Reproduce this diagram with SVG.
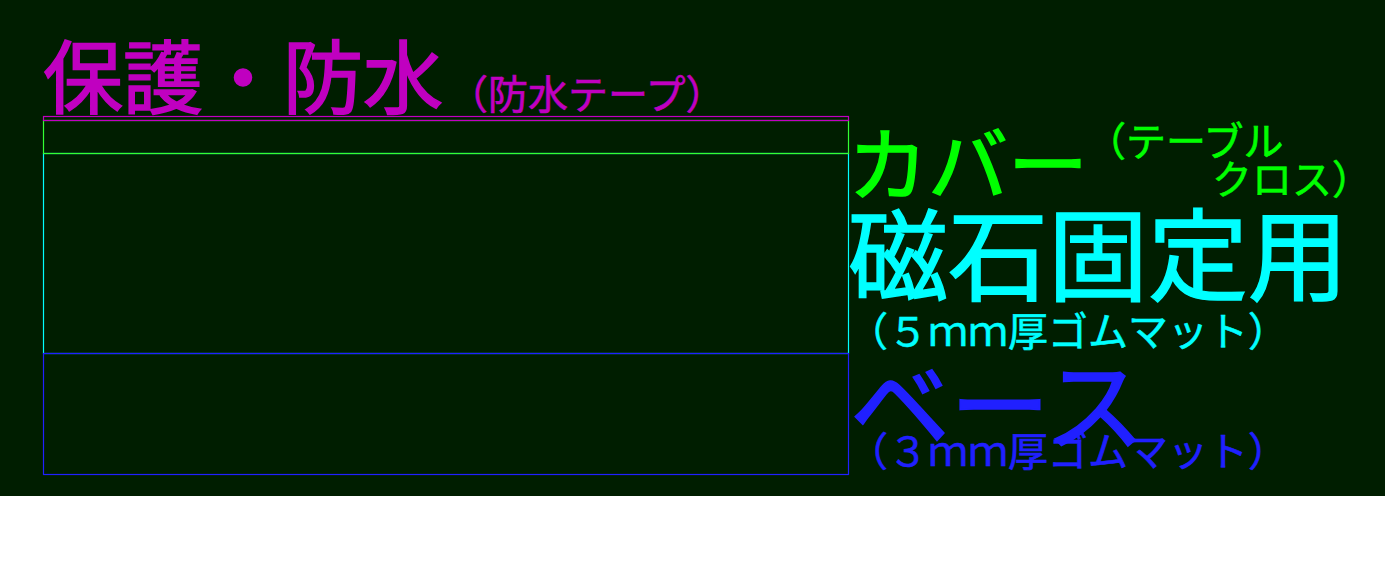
<svg xmlns="http://www.w3.org/2000/svg" width="1385" height="568" viewBox="0 0 1385 568">
<style>
text{font-family:"Noto Sans CJK JP","Noto Sans",sans-serif;}
.big{stroke-width:1.6;}
.sm{stroke-width:0.6;}
.lyr{fill:none;stroke-width:1.2;}
.mag{fill:#c000c0;stroke:#c000c0;}
.grn{fill:#00ff00;stroke:#00ff00;}
.cyn{fill:#00ffff;stroke:#00ffff;}
.blu{fill:#2020ff;stroke:#2020ff;}
</style>
<rect x="0" y="0" width="1385" height="568" fill="#ffffff"/>
<rect x="0" y="0" width="1385" height="496" fill="#001e00"/>
<g id="layers">
<rect id="magnet-layer" class="lyr" x="43.5" y="153.5" width="805" height="200" stroke="#00ffff"/>
<rect id="cover-layer" class="lyr" x="43.5" y="120.5" width="805" height="33" stroke="#33ff33"/>
<rect id="protect-layer" class="lyr" x="43.5" y="116.5" width="805" height="4" stroke="#c000c0"/>
<rect id="base-layer" class="lyr" x="43.5" y="353.5" width="805" height="121" stroke="#2020ff"/>
</g>
<g id="label-protect">
<text class="mag big" x="43" y="107" font-size="80">保護・防水</text>
<text class="mag sm" x="448" y="109" font-size="40">（防水テープ）</text>
</g>
<g id="label-cover">
<text class="grn big" x="848" y="194" font-size="80">カバー</text>
<text class="grn sm" x="1086" y="156" font-size="40">（テーブル</text>
<text class="grn sm" x="1212" y="194" font-size="40">クロス）</text>
</g>
<g id="label-magnet">
<text class="cyn big" x="848" y="293" font-size="100">磁石固定用</text>
<text class="cyn sm" x="848" y="346" font-size="40">（５ｍｍ厚ゴムマット）</text>
</g>
<g id="label-base">
<text class="blu big" x="850" y="443" font-size="100">ベース</text>
<text class="blu sm" x="848" y="466" font-size="40">（３ｍｍ厚ゴムマット）</text>
</g>
<g id="connectors"></g>
</svg>
